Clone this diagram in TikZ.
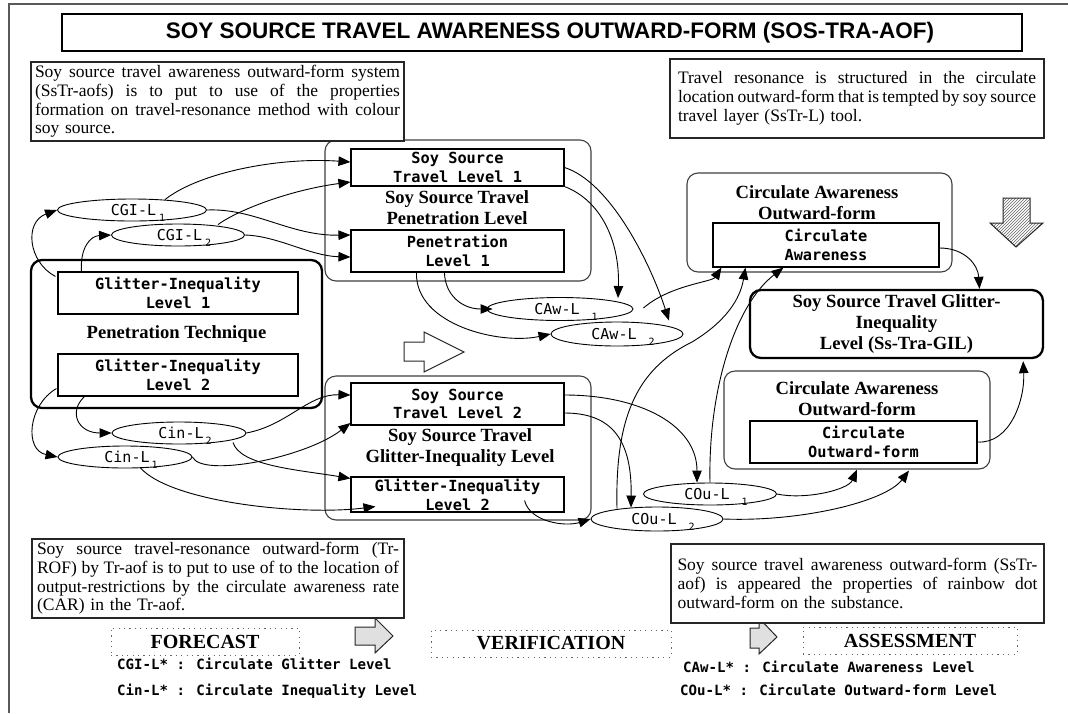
\documentclass[tikz,border=0pt]{standalone}
\usepackage{fontspec}
\setmainfont{Liberation Serif}
\newfontfamily\monofam{DejaVu Sans Mono}
\newfontfamily\arialfam{Liberation Sans}
\usetikzlibrary{shapes.geometric,arrows.meta,calc,patterns}
\newcommand\levlabel[3]{\smash{\raisebox{-5pt}{\kern12pt#1\kern#3\raisebox{-6pt}{\fontsize{10}{10}\selectfont #2}}}}
\newcommand\jl[2]{{\spaceskip=0pt\xspaceskip=0pt\makebox[#1][s]{#2}}}
\begin{document}
\begin{tikzpicture}[x=1pt,y=-1pt,
  conn/.style={-{Triangle[length=12pt,width=9.5pt]}, line width=0.9pt},
  lvlbox/.style={draw, line width=1.1pt, fill=white, inner sep=0pt, align=center,
    font=\monofam\bfseries\fontsize{15.3}{18.8}\selectfont},
  grp/.style={draw=black!75, line width=1.1pt, rounded corners=11pt, inner sep=0pt},
  thickgrp/.style={draw, line width=2.3pt, rounded corners=11pt, inner sep=0pt, align=center,
    font=\bfseries\fontsize{18.6}{21}\selectfont},
  grplbl/.style={font=\bfseries\fontsize{18.6}{21}\selectfont, align=center, inner sep=0pt},
  lev/.style={ellipse, draw, line width=0.9pt, fill=white, inner sep=0pt,
    font=\monofam\fontsize{15}{15}\selectfont},
  note/.style={draw=black!85, line width=1.4pt, fill=white, align=left, inner ysep=0pt,
    font=\fontsize{17.5}{18.7}\selectfont},
  phase/.style={draw=black!60, dash pattern=on 1.2pt off 4.2pt, line width=1pt, inner sep=0pt,
    font=\bfseries\fontsize{20}{20}\selectfont},
  legend/.style={font=\monofam\bfseries\fontsize{14.1}{16}\selectfont, anchor=west, inner sep=0pt},
  blockarrow/.style={draw=black!85, line width=1pt}
]
\useasboundingbox (0,0) rectangle (1068,713);
\fill[white] (0,0) rectangle (1068,713);
% outer frame
\draw[black!65, line width=2pt] (9,713) -- (9,4) -- (1068,4);

% title
\node[draw, line width=1.2pt, minimum width=960pt, minimum height=37pt, inner sep=0pt,
  font=\arialfam\bfseries\fontsize{22.5}{22.5}\selectfont] (title) at (542,32.5)
  {\hspace*{16pt}SOY SOURCE TRAVEL AWARENESS OUTWARD-FORM (SOS-TRA-AOF)};

% groups
\node[grp, minimum width=266pt, minimum height=141pt] (grpUp) at (458,210.5) {};
\node[grp, minimum width=266pt, minimum height=144pt] (grpLow) at (458,448) {};
\node[thickgrp, minimum width=291pt, minimum height=148pt] (grpLeft) at (176.5,334) {Penetration Technique};
\node[grp, minimum width=265pt, minimum height=99pt] (grpA) at (819.5,222.5) {};
\node[grp, minimum width=266pt, minimum height=98pt] (grpB) at (857,420) {};

% top notes
\node[note, text width=365pt, inner xsep=4pt, minimum height=79pt] (nTL) at (217.5,101.5)
 {\jl{365pt}{Soy source travel awareness outward-form system}\\
  \jl{365pt}{(SsTr-aofs) is to put to use of the properties}\\
  \jl{365pt}{formation on travel-resonance method with colour}\\
  soy source.};
\node[note, text width=358pt, inner xsep=8pt, minimum height=79pt] (nTR) at (857,98.5)
 {\jl{358pt}{Travel resonance is structured in the circulate}\\
  \jl{358pt}{location outward-form that is tempted by soy source}\\
  travel layer (SsTr-L) tool.};

% group labels
\node[grplbl] (lblUp) at (457,207.5) {Soy Source Travel\\Penetration Level};
\node[grplbl] (lblLow) at (460,447.5) {Soy Source Travel\\Glitter-Inequality Level};
\node[grplbl] (lblA) at (817,202.5) {Circulate Awareness\\Outward-form};
\node[grplbl] (lblB) at (857,398.5) {Circulate Awareness\\Outward-form};

% level boxes
\node[lvlbox, minimum width=213pt, minimum height=37pt] (SST1) at (457.5,167.5) {Soy Source\\Travel Level 1};
\node[lvlbox, minimum width=213pt, minimum height=42pt] (PL1) at (457.5,251) {Penetration\\Level 1};
\node[lvlbox, minimum width=213pt, minimum height=42pt] (SST2) at (457.5,404) {Soy Source\\Travel Level 2};
\node[lvlbox, minimum width=213pt, minimum height=35pt] (GIL2R) at (457.5,494.5) {Glitter-Inequality\\Level 2};
\node[lvlbox, minimum width=240pt, minimum height=42pt] (GIL1) at (178,293) {Glitter-Inequality\\Level 1};
\node[lvlbox, minimum width=240pt, minimum height=42pt] (GIL2) at (178,375) {Glitter-Inequality\\Level 2};
\node[lvlbox, minimum width=226pt, minimum height=44pt] (CA) at (826,245) {Circulate\\Awareness};
\node[lvlbox, minimum width=227pt, minimum height=42pt] (CO) at (863.5,442) {Circulate\\Outward-form};
\node[thickgrp, fill=white, minimum width=293pt, minimum height=68pt] (GILbig) at (896.5,324)
  {Soy Source Travel Glitter-\\Inequality\\Level (Ss-Tra-GIL)};

% level ellipses
\node[lev, minimum width=149pt, minimum height=22pt] (CGI1) at (132,210) {\levlabel{CGI-L}{1}{3pt}};
\node[lev, minimum width=133pt, minimum height=22pt] (CGI2) at (178,235) {\levlabel{CGI-L}{2}{3pt}};
\node[lev, minimum width=134pt, minimum height=22pt] (Cin2) at (179,433) {\levlabel{Cin-L}{2}{2pt}};
\node[lev, minimum width=134pt, minimum height=22pt] (Cin1) at (125,457) {\levlabel{Cin-L}{1}{2pt}};
\node[lev, minimum width=146pt, minimum height=23pt] (CAw1) at (560,309) {\levlabel{CAw-L}{1}{12pt}};
\node[lev, minimum width=132pt, minimum height=24pt] (CAw2) at (617,334) {\levlabel{CAw-L}{2}{12pt}};
\node[lev, minimum width=133pt, minimum height=22pt] (COu1) at (710,494) {\levlabel{COu-L}{1}{12pt}};
\node[lev, minimum width=132pt, minimum height=24pt] (COu2) at (657,519) {\levlabel{COu-L}{2}{12pt}};

% block arrows
\draw[blockarrow, fill=white] (404,342) -- (424,342) -- (424,332) -- (464,352) -- (424,372) -- (424,361) -- (404,361) -- cycle;
\draw[blockarrow, pattern=north east lines, pattern color=black!60]
  (1003,198) -- (1030,198) -- (1030,223) -- (1043,223) -- (1016,247) -- (990,223) -- (1003,223) -- cycle;

% connectors
\draw[conn] ($(GIL1.north west)+(-2,5)$) .. controls (28,262) and (24,222) .. (CGI1.west);
\draw[conn] ($(GIL1.north west)+(24,0)$) .. controls (80,248) and (90,236) .. (CGI2.west);
\draw[conn] ($(CGI1.north)+(33,1)$) .. controls (200,172) and (280,157) .. ($(SST1.west)+(0,-5.5)$);
\draw[conn] (CGI1.east) .. controls (255,208) and (290,236) .. ($(PL1.west)+(0,-16)$);
\draw[conn] ($(CGI2.north)+(40,1)$) .. controls (238,210) and (290,190) .. ($(SST1.west)+(0,14.5)$);
\draw[conn] (CGI2.east) .. controls (278,236) and (310,256) .. ($(PL1.west)+(0,6)$);
\draw[conn] ($(GIL2.south west)+(-1,-8)$) .. controls (28,405) and (24,450) .. (Cin1.west);
\draw[conn] ($(GIL2.south west)+(27,0)$) .. controls (68,412) and (78,433) .. (Cin2.west);
\draw[conn] (Cin2.east) .. controls (288,425) and (308,394) .. ($(SST2.west)+(0,-9)$);
\draw[conn] (Cin1.east) .. controls (202,478) and (305,458) .. ($(SST2.west)+(0,19)$);
\draw[conn] ($(Cin2.south)+(54,-2)$) .. controls (240,466) and (300,470) .. ($(GIL2R.north west)+(0,2)$);
\draw[conn] ($(Cin1.south)+(15,-1)$) .. controls (170,502) and (300,516) .. ($(GIL2R.south west)+(25,-6)$);
\draw[conn] (SST1.east) .. controls (610,182) and (650,262) .. ($(CAw2.north)+(52,-1)$);
\draw[conn] (SST1.south east) .. controls (600,200) and (620,240) .. ($(CAw1.north)+(58,1)$);
\draw[conn] ($(PL1.south west)+(94,0)$) .. controls (445,295) and (462,309) .. ($(CAw1.west)+(6,0)$);
\draw[conn] ($(PL1.south west)+(66,0)$) .. controls (415,325) and (500,345) .. (CAw2.west);
\draw[conn] ($(CAw1.east)+(10,-1)$) .. controls (670,285) and (712,282) .. ($(CA.south west)+(9,0)$);
\draw[conn] ($(COu2.north)+(-40,2)$) .. controls (615,420) and (635,370) .. (692,342)
  .. controls (725,322) and (740,300) .. ($(CA.south west)+(33,0)$);
\draw[conn] (COu1.north) .. controls (708,390) and (735,305) .. ($(CA.south west)+(71,0)$);
\draw[conn] ($(SST2.east)+(0,-9)$) .. controls (640,395) and (697,425) .. ($(COu1.north)+(-13,0)$);
\draw[conn] ($(SST2.east)+(0,9)$) .. controls (612,413) and (632,440) .. ($(COu2.north)+(-26,1)$);
\draw[conn] ($(GIL2R.south east)+(-40,-12)$) .. controls (530,522) and (565,527) .. (COu2.west);
\draw[conn] (COu1.east) .. controls (805,500) and (848,490) .. (grpB.south);
\draw[conn] (COu2.east) .. controls (800,522) and (885,502) .. ($(grpB.south)+(52,1)$);
\draw[conn] (CO.east) .. controls (1010,444) and (1025,400) .. ($(GILbig.south east)+(-21,2)$);
\draw[conn] ($(CA.east)+(0,3)$) .. controls (965,248) and (978,265) .. ($(GILbig.north)+(83,0)$);

% bottom notes and phase arrows
\draw[blockarrow, fill=black!12] (355,627) -- (375,627) -- (375,618) -- (393,636) -- (375,653) -- (375,645) -- (355,645) -- cycle;
\draw[blockarrow, fill=black!12] (750,628) -- (759,628) -- (759,618) -- (777,637) -- (759,654) -- (759,648) -- (750,648) -- cycle;
\node[note, text width=362pt, inner xsep=5pt, minimum height=79pt] (nBL) at (218,578.5)
 {\jl{362pt}{Soy source travel-resonance outward-form (Tr-}\\
  \jl{362pt}{ROF) by Tr-aof is to put to use of to the location of}\\
  \jl{362pt}{output-restrictions by the circulate awareness rate}\\
  (CAR) in the Tr-aof.};
\node[note, text width=360pt, inner xsep=6.5pt, minimum height=79pt] (nBR) at (857.5,583.5)
 {\jl{360pt}{Soy source travel awareness outward-form (SsTr-}\\
  \jl{360pt}{aof) is appeared the properties of rainbow dot}\\
  outward-form on the substance.};

\node[phase, minimum width=188pt, minimum height=27pt] (fc) at (205,641.5) {FORECAST};
\node[phase, minimum width=240pt, minimum height=27pt] (vf) at (551,643.5) {VERIFICATION};
\node[phase, minimum width=214pt, minimum height=27pt] (as) at (910,640.5) {ASSESSMENT};

% legend
\node[legend] (lg1) at (117,664) {CGI-L* : Circulate Glitter Level};
\node[legend] (lg2) at (117,691) {Cin-L* : Circulate Inequality Level};
\node[legend] (lg3) at (683,667) {CAw-L* : Circulate Awareness Level};
\node[legend] (lg4) at (680,690) {COu-L* : Circulate Outward-form Level};
\end{tikzpicture}
\end{document}
